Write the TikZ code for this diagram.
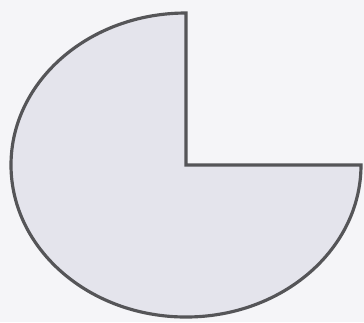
\documentclass[tikz,border=0pt]{standalone}
\definecolor{pagebg}{HTML}{F5F5F8}
\definecolor{piefill}{HTML}{E4E4EC}
\definecolor{pieline}{HTML}{555558}
\begin{document}
\begin{tikzpicture}[pie/.style={draw=pieline, fill=piefill, line width=0.9pt, line join=miter}]
\fill[pagebg] (0,0) rectangle (3.64,3.22);
\useasboundingbox (0,0) rectangle (3.64,3.22);
\coordinate (c) at (1.86,1.57);
\draw[pie] (c) -- ++(0,1.52) arc[start angle=90, end angle=360, x radius=1.75, y radius=1.52] -- cycle;
\end{tikzpicture}
\end{document}
